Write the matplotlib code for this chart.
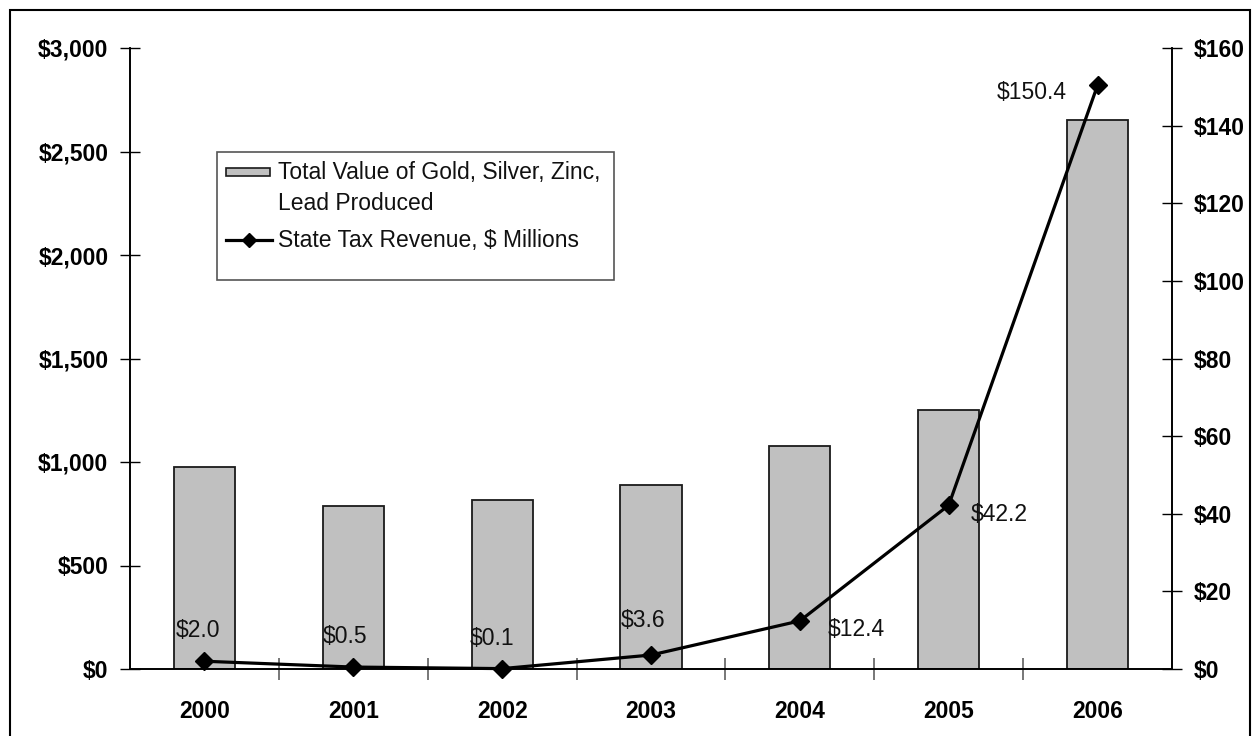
import matplotlib.pyplot as plt
from matplotlib.patches import Rectangle
from matplotlib.lines import Line2D
from matplotlib.ticker import FuncFormatter, MultipleLocator

plt.rcParams['font.family'] = ['Liberation Sans', 'DejaVu Sans']

years = ['2000', '2001', '2002', '2003', '2004', '2005', '2006']
metal_value = [977, 789, 816, 889, 1079, 1251, 2651]
tax_revenue = [2.0, 0.5, 0.1, 3.6, 12.4, 42.2, 150.4]
bar_label = 'Total Value of Gold, Silver, Zinc,\nLead Produced'
line_label = 'State Tax Revenue, $ Millions'

# offsets (points) and alignment of the value labels around each marker
label_offsets = [(-5, 22, 'center'), (-6, 22, 'center'), (-7, 22, 'center'),
                 (-6, 25, 'center'), (20, -6, 'left'), (16, -7, 'left'),
                 (-22, -5, 'right')]

W, H = 1254, 736
fig = plt.figure(figsize=(W / 100, H / 100), dpi=100)
ax = fig.add_axes([130 / W, 1 - 669 / H, (1172 - 130) / W, (669 - 48) / H])
ax2 = ax.twinx()

x = list(range(len(years)))
ax.bar(x, metal_value, width=0.41, color='#c0c0c0', edgecolor='#1a1a1a',
       linewidth=1.3, zorder=2)
ax2.plot(x, tax_revenue, color='black', linewidth=2.3, marker='D',
         markersize=9, zorder=3, clip_on=False)

for xi, v, (dx, dy, ha) in zip(x, tax_revenue, label_offsets):
    ax2.annotate(f'${v:.1f}', (xi, v), xytext=(dx, dy), textcoords='offset points',
                 ha=ha, va='center', fontsize=16.5, color='#111111')

ax.set_xlim(-0.5, len(years) - 0.5)
ax.set_ylim(0, 3000)
ax2.set_ylim(0, 160)
ax.yaxis.set_major_locator(MultipleLocator(500))
ax2.yaxis.set_major_locator(MultipleLocator(20))
ax.yaxis.set_major_formatter(FuncFormatter(lambda v, p: f'${v:,.0f}'))
ax2.yaxis.set_major_formatter(FuncFormatter(lambda v, p: f'${v:,.0f}'))

# tick marks sit between categories, year labels sit under the bars
ax.set_xticks([i + 0.5 for i in x[:-1]])
ax.set_xticklabels([])
ax.set_xticks(x, minor=True)
ax.set_xticklabels(years, minor=True)
ax.tick_params(axis='x', which='major', direction='inout', length=16,
               width=1.2, color='#606060')
ax.tick_params(axis='x', which='minor', length=0, pad=22, labelsize=16.5)
for lab in ax.get_xticklabels(minor=True):
    lab.set_fontweight('bold')

ax.tick_params(axis='y', direction='inout', length=15, width=1, pad=8,
               labelsize=16.5)
ax2.tick_params(axis='y', direction='inout', length=15, width=1, pad=8,
                labelsize=16.5)
for lab in ax.get_yticklabels() + ax2.get_yticklabels():
    lab.set_fontweight('bold')

for a in (ax, ax2):
    a.spines['top'].set_visible(False)
    for s in ('left', 'right', 'bottom'):
        a.spines[s].set_linewidth(1.2)
        a.spines[s].set_color('black')

# legend box drawn in figure pixels
fx = lambda px: px / W
fy = lambda py: 1 - py / H
fig.patches.append(Rectangle((fx(217), fy(280)), fx(614) - fx(217), fy(152) - fy(280),
                             transform=fig.transFigure, facecolor='white',
                             edgecolor='#555555', linewidth=1.2, zorder=5))
fig.patches.append(Rectangle((fx(226), fy(176)), fx(270) - fx(226), fy(168) - fy(176),
                             transform=fig.transFigure, facecolor='#c0c0c0',
                             edgecolor='#1a1a1a', linewidth=1.2, zorder=6))
fig.lines.append(Line2D([fx(226), fx(272)], [fy(240), fy(240)], transform=fig.transFigure,
                        color='black', linewidth=2.3, zorder=6))
fig.lines.append(Line2D([fx(249)], [fy(240)], transform=fig.transFigure,
                        color='black', marker='D', markersize=7.5, zorder=7))
for i, part in enumerate(bar_label.split('\n')):
    fig.text(fx(278), fy(172 + 31 * i), part, ha='left', va='center',
             fontsize=16.5, color='#111111', zorder=7)
fig.text(fx(278), fy(240), line_label, ha='left', va='center', fontsize=16.5,
         color='#111111', zorder=7)

# outer frame of the chart area
fig.patches.append(Rectangle((fx(10), -0.02), fx(1250) - fx(10), fy(10) + 0.02,
                             transform=fig.transFigure, fill=False,
                             edgecolor='black', linewidth=1.5, zorder=10))

fig.savefig('out.png', dpi=100)
